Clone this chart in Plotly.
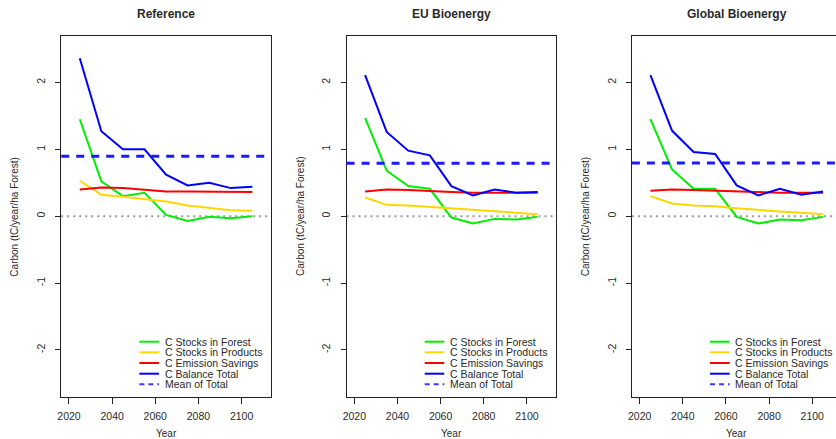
import numpy as np
import plotly.graph_objects as go

# ---------------- data ----------------
years = [2025, 2035, 2045, 2055, 2065, 2075, 2085, 2095, 2105]

panel_titles = ["Reference", "EU Bioenergy", "Global Bioenergy"]
series_names = ["C Stocks in Forest", "C Stocks in Products", "C Emission Savings", "C Balance Total"]
mean_name = "Mean of Total"

forest_ref = [1.45, 0.52, 0.30, 0.35, 0.02, -0.07, -0.01, -0.03, 0.00]
products_ref = [0.53, 0.32, 0.29, 0.26, 0.22, 0.16, 0.12, 0.09, 0.08]
savings_ref = [0.40, 0.43, 0.42, 0.40, 0.37, 0.37, 0.37, 0.37, 0.36]
total_ref = [2.36, 1.27, 1.00, 1.00, 0.62, 0.46, 0.50, 0.42, 0.44]

forest_eu = [1.47, 0.68, 0.45, 0.41, -0.02, -0.11, -0.04, -0.05, -0.01]
products_eu = [0.28, 0.17, 0.16, 0.14, 0.12, 0.09, 0.07, 0.05, 0.03]
savings_eu = [0.37, 0.40, 0.39, 0.37, 0.36, 0.35, 0.35, 0.35, 0.35]
total_eu = [2.11, 1.26, 0.98, 0.91, 0.45, 0.31, 0.40, 0.35, 0.36]

forest_glob = [1.45, 0.70, 0.41, 0.41, -0.01, -0.11, -0.05, -0.06, -0.01]
products_glob = [0.30, 0.19, 0.16, 0.15, 0.12, 0.09, 0.07, 0.05, 0.03]
savings_glob = [0.38, 0.40, 0.39, 0.38, 0.36, 0.35, 0.35, 0.35, 0.35]
total_glob = [2.11, 1.28, 0.96, 0.93, 0.46, 0.31, 0.41, 0.32, 0.37]

x_ticks = [2020, 2040, 2060, 2080, 2100]
y_ticks = [-2, -1, 0, 1, 2]
y_tick_labels = ["-2", "-1", "0", "1", "2"]
x_title = "Year"
y_title = "Carbon (tC/year/ha Forest)"

# ---------------- style ----------------
W, H = 836, 439
colors = ["#00EE00", "#FFD700", "#FF0000", "#0000FF"]
FONT = "Liberation Sans, Arial, Helvetica, sans-serif"
TXT = "#2a2a2a"

px_per_year = 2.1675
x_range = [2016.4, 2113.6]
panel_left = [57.5, 344.2, 630.9]
panel_width = (x_range[1] - x_range[0]) * px_per_year
y_top, y_bot = 35.6, 396.8


def px_x(p):
    return p / W


def px_y(p):
    return 1 - p / H


panels = [
    [forest_ref, products_ref, savings_ref, total_ref],
    [forest_eu, products_eu, savings_eu, total_eu],
    [forest_glob, products_glob, savings_glob, total_glob],
]

fig = go.Figure()
shapes = []
annotations = []

for i, series in enumerate(panels):
    xa = "x" if i == 0 else f"x{i+1}"
    ya = "y" if i == 0 else f"y{i+1}"
    for name, vals, col in zip(series_names, series, colors):
        fig.add_trace(go.Scatter(
            x=years, y=vals, mode="lines", name=name,
            line=dict(color=col, width=2), xaxis=xa, yaxis=ya,
            showlegend=False,
        ))

    left = panel_left[i]
    right = min(left + panel_width, W)
    xr = [x_range[0], x_range[0] + (right - left) / px_per_year]

    ax_common = dict(showgrid=False, zeroline=False, showline=True,
                     linecolor="#222222", linewidth=1, ticks="outside",
                     tickcolor="#222222", ticklen=6,
                     tickfont=dict(family=FONT, size=10.5, color=TXT))
    layout_x = dict(ax_common, domain=[px_x(left), px_x(right)], range=xr,
                    tickvals=x_ticks, mirror=True, anchor=ya,
                    ticklabelstandoff=4)
    layout_y = dict(ax_common, domain=[px_y(y_bot), px_y(y_top)], range=[-2.7, 2.7],
                    tickvals=y_ticks, ticktext=y_tick_labels, tickangle=-90,
                    mirror=(i < 2), anchor=xa, ticklen=5, ticklabelstandoff=6)
    fig.update_layout(**{("xaxis" if i == 0 else f"xaxis{i+1}"): layout_x,
                         ("yaxis" if i == 0 else f"yaxis{i+1}"): layout_y})

    # zero reference line
    shapes.append(dict(type="line", xref=f"{xa} domain", yref=ya, x0=0, x1=1,
                       y0=0, y1=0, layer="below",
                       line=dict(color="#999999", width=2, dash="2px,4px")))
    # mean of total
    mean_total = float(np.mean(series[3]))
    shapes.append(dict(type="line", xref=f"{xa} domain", yref=ya, x0=0, x1=1,
                       y0=mean_total, y1=mean_total, layer="above",
                       line=dict(color="#1a1aff", width=3, dash="8px,7px")))

    # titles
    cx = left + panel_width / 2
    annotations.append(dict(text=f"<b>{panel_titles[i]}</b>", xref="paper", yref="paper",
                            x=px_x(cx), y=px_y(14.3), xanchor="center", yanchor="middle",
                            showarrow=False, font=dict(family=FONT, size=12, color=TXT)))
    annotations.append(dict(text=x_title, xref="paper", yref="paper",
                            x=px_x(cx), y=px_y(433.5), xanchor="center", yanchor="middle",
                            showarrow=False, font=dict(family=FONT, size=10, color=TXT)))
    annotations.append(dict(text=y_title, xref="paper", yref="paper", textangle=-90,
                            x=px_x(left - 47), y=px_y((y_top + y_bot) / 2),
                            xanchor="center", yanchor="middle",
                            showarrow=False, font=dict(family=FONT, size=10, color=TXT)))

    # legend (bottom right, no box)
    rows = [341.7, 352.3, 363.0, 373.7, 384.3]
    labels = series_names + [mean_name]
    for r, (lab, ry) in enumerate(zip(labels, rows)):
        if r < 4:
            ln = dict(color=colors[r], width=2)
        else:
            ln = dict(color="#3a3aff", width=2, dash="5px,4px")
        shapes.append(dict(type="line", xref="paper", yref="paper",
                           x0=px_x(left + 78.5), x1=px_x(left + 98.2),
                           y0=px_y(ry), y1=px_y(ry), line=ln))
        annotations.append(dict(text=lab, xref="paper", yref="paper",
                                x=px_x(left + 102.8), y=px_y(ry),
                                xanchor="left", yanchor="middle", showarrow=False,
                                borderpad=0,
                                font=dict(family=FONT, size=10.5, color=TXT)))

fig.update_layout(
    width=W, height=H, autosize=False,
    margin=dict(l=0, r=0, t=0, b=0),
    paper_bgcolor="white", plot_bgcolor="white",
    shapes=shapes, annotations=annotations,
    showlegend=False,
)

fig.write_html(
    "out.html",
    config={"displayModeBar": False},
    post_script="document.body.style.margin='0';document.body.style.overflow='hidden';",
)
